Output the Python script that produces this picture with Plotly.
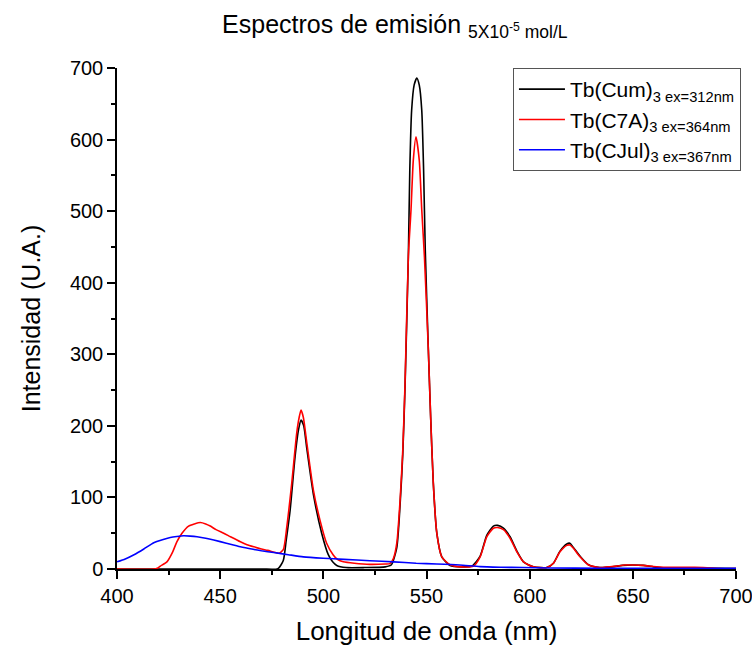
import plotly.graph_objects as go

# Tb(Cum)3, ex=312nm
cum_x = [400, 470, 478, 480.6, 482, 483.9, 486.3, 488, 489.2, 490.5, 492, 495.2, 499.2, 502.4, 504.5, 506.5,
         511, 520, 530, 533, 535.6, 537.2, 538.5, 539.6, 541.2, 541.9, 542.8, 544, 545.3, 546.5, 547.7, 548.6,
         549.4, 550.9, 552, 553.3, 555, 557.4, 561.4, 567, 572, 576, 579.2, 582.4, 584.5, 587.3, 590.5, 593.8,
         597, 601.8, 608.3, 611.5, 614.7, 618, 619.5, 621.2, 624.4, 628.5, 634, 640, 645, 650, 655, 660, 665,
         680, 700]
cum_y = [0, 0, 0.5, 12, 40, 82, 157, 195, 208, 200, 168, 104, 50, 20, 10, 5,
         2, 2, 3, 6, 30, 90, 160, 255, 436, 557, 641, 676, 686, 676, 641, 557,
         446, 306, 213, 120, 50, 17, 5, 3, 4, 18, 47, 60, 61, 57, 45, 25,
         10, 3, 2, 8, 25, 35, 36, 30, 18, 6, 2, 3, 5, 5.5, 5, 3, 1.5,
         1.5, 0.5]

# Tb(C7A)3, ex=364nm
c7a_x = [400, 418, 419.5, 421, 424.2, 427, 429, 431.5, 434.7, 437.5, 440.4, 443, 445.2, 448, 451.7, 455,
         459.8, 463, 466.3, 470, 473, 476.8, 478.5, 480.6, 482.3, 484.7, 487.1, 488.3, 489.2, 490.3, 492,
         495.2, 498.4, 501.6, 504.8, 507, 509.7, 515, 522.6, 530, 532.3, 534, 535.6, 537.2, 538.5, 539.6,
         541.2, 542.5, 543.6, 544.9, 546.5, 547.7, 549, 550.9, 552, 553.3, 555, 557.4, 561.4, 567, 572.7,
         576, 579.2, 582.4, 584.5, 587.3, 590.5, 593.8, 597, 601.8, 608.3, 611.5, 614.7, 618, 619.5, 621.2,
         624.4, 628.5, 634, 638, 642, 646, 650, 655, 660, 665, 670, 680, 688, 692, 700]
c7a_y = [0, 0, 1, 4, 10, 24, 38, 50, 60, 63, 65, 63, 60, 55, 50, 45,
         38, 34, 31, 28, 26, 23, 22, 27, 59, 120, 190, 212, 222, 212, 176,
         110, 68, 36, 19.6, 13, 10, 8, 6.5, 7, 7.5, 15, 36, 96, 166, 259,
         436, 502, 571, 604, 571, 502, 436, 306, 213, 120, 50, 17, 6, 3, 4,
         17, 45, 57, 58, 55, 43, 24, 10, 3, 2, 8, 24, 33, 33.5, 29,
         17, 5.6, 2, 3, 4, 5.5, 5.5, 5, 3.5, 2.5, 2.5, 2.5, 1.5, 0.5, 0.5]

# Tb(CJul)3, ex=367nm
cjul_x = [400, 404, 408, 413, 417.8, 422, 425.8, 429, 432.3, 435.5, 438.8, 443, 446.9, 453, 459.8, 466,
          470, 476, 483, 490.3, 500, 510, 522.6, 534, 545, 555, 566, 576, 586, 596.5, 610, 634, 660, 680, 700]
cjul_y = [10, 14, 19.6, 28, 36.8, 41, 44, 45.5, 46.5, 46, 45, 43, 40.5, 36, 31, 27.5,
          25.5, 23, 20, 17, 15, 13.5, 11.6, 10, 8, 7, 5.6, 3.3, 2.5, 2, 1.5, 1, 1, 1, 1]

series_names = ["Tb(Cum)<sub>3 ex=312nm</sub>", "Tb(C7A)<sub>3 ex=364nm</sub>", "Tb(CJul)<sub>3 ex=367nm</sub>"]
series_colors = ["#000000", "#ff0000", "#0000ff"]

FONT = "Arial, 'Liberation Sans', sans-serif"

fig = go.Figure()
for xs, ys, nm, col in zip([cum_x, c7a_x, cjul_x], [cum_y, c7a_y, cjul_y], series_names, series_colors):
    fig.add_trace(go.Scatter(x=xs, y=ys, mode="lines", name=nm, line_shape="spline",
                             line=dict(color=col, width=1.6, smoothing=0.6)))

fig.update_layout(
    width=752, height=646,
    margin=dict(l=117, r=16, t=68, b=77, autoexpand=False),
    paper_bgcolor="white", plot_bgcolor="white",
    font=dict(family=FONT, color="black"),
    title=dict(text="Espectros de emisión <sub>5X10<sup>-5</sup> mol/L</sub>",
               x=0.525, xanchor="center", y=0.963, yanchor="middle",
               font=dict(size=25, family=FONT, color="black")),
    legend=dict(x=1.008, xanchor="right", y=1.0, yanchor="top",
                bordercolor="#555555", borderwidth=1, bgcolor="white",
                font=dict(size=21, family=FONT, color="black"),
                tracegroupgap=0, itemwidth=46),
    showlegend=True,
)

fig.update_xaxes(range=[400, 700], dtick=50, tick0=400, automargin=False,
                 ticklabeloverflow="allow",
                 showline=True, linecolor="black", linewidth=1.5,
                 ticks="outside", ticklen=8, tickwidth=1.5, tickcolor="black",
                 minor=dict(dtick=25, ticklen=4, ticks="outside", tickwidth=1.5, tickcolor="black"),
                 showgrid=False, zeroline=False,
                 tickfont=dict(size=20, family=FONT, color="black"),
                 title=dict(text="Longitud de onda (nm)", font=dict(size=26, family=FONT, color="black"),
                            standoff=20))
fig.update_yaxes(range=[0, 700], dtick=100, tick0=0, automargin=False,
                 ticklabeloverflow="allow",
                 showline=True, linecolor="black", linewidth=1.5,
                 ticks="outside", ticklen=8, tickwidth=1.5, tickcolor="black",
                 minor=dict(dtick=50, ticklen=4, ticks="outside", tickwidth=1.5, tickcolor="black"),
                 showgrid=False, zeroline=False,
                 tickfont=dict(size=20, family=FONT, color="black"),
                 title=dict(text="Intensidad (U.A.)", font=dict(size=25, family=FONT, color="black"),
                            standoff=22))

fig.write_html("out.html")
